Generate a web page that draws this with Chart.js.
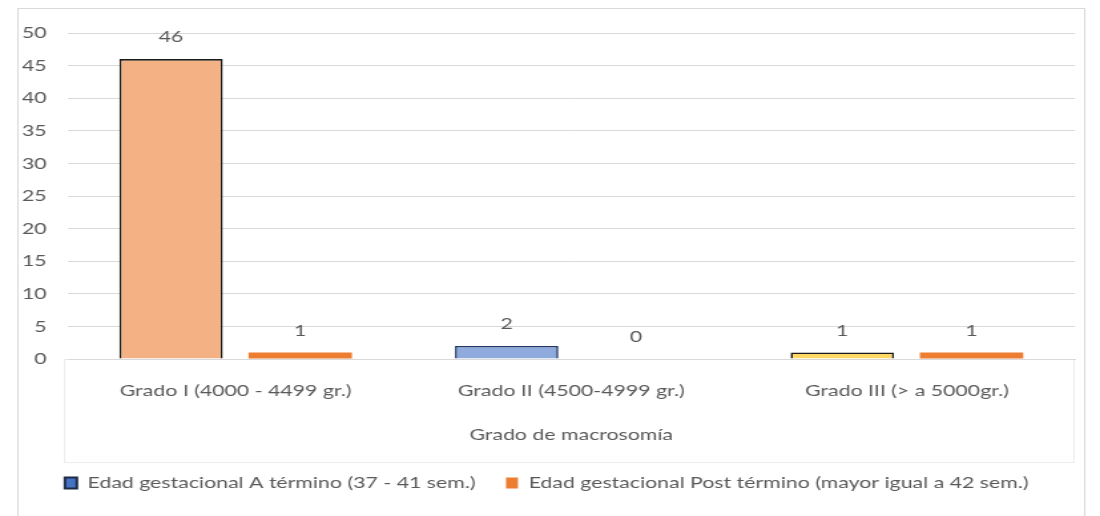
<!DOCTYPE html>
<html>
<head>
<meta charset="utf-8">
<script src="https://cdn.jsdelivr.net/npm/chart.js@4/dist/chart.umd.min.js"></script>
<style>
  body { margin: 0; background: #fff; overflow: hidden; }
  /* the source picture is stretched sideways, so the chart is drawn narrow and widened */
  #wrap { width: 827px; height: 516px; transform: scaleX(1.3301); transform-origin: 0 0; }
</style>
</head>
<body>
<div id="wrap"><canvas id="macroChart" width="827" height="516"></canvas></div>
<script>
// --- Chart data ---
const categories = ["Grado I (4000 - 4499 gr.)", "Grado II (4500-4999 gr.)", "Grado III (> a 5000gr.)"];
const seriesNames = ["Edad gestacional A término (37 - 41 sem.)", "Edad gestacional Post término (mayor igual a 42 sem.)"];
const aTermino = [46, 2, 1];
const postTermino = [1, 0, 1];
const yTicks = [0, 5, 10, 15, 20, 25, 30, 35, 40, 45, 50];
const axisTitle = "Grado de macrosomía";

const FONT = "Lato, 'Open Sans', sans-serif";
const GREY = "#595959";

// numbers above every bar
const valueLabels = {
    id: "valueLabels",
    afterDatasetsDraw(chart){
        const ctx = chart.ctx;
        ctx.save();
        ctx.font = "16px " + FONT;
        ctx.fillStyle = GREY;
        ctx.textAlign = "center";
        ctx.textBaseline = "middle";
        chart.data.datasets.forEach((ds, i) => {
            chart.getDatasetMeta(i).data.forEach((bar, j) => {
                ctx.fillText(String(ds.data[j]), bar.x, bar.y - 22);
            });
        });
        ctx.restore();
    }
};

// outer frame + faint box round the category labels
const frames = {
    id: "frames",
    beforeDraw(chart){
        const ctx = chart.ctx;
        const a = chart.chartArea;
        ctx.save();
        ctx.strokeStyle = "#d9d9d9";
        ctx.lineWidth = 1;
        ctx.strokeRect(13.5, 8.5, 802, 520);
        ctx.strokeStyle = "#ececec";
        ctx.strokeRect(a.left - 2.5, a.bottom + 0.5, a.right - a.left + 2, 103);
        ctx.restore();
    }
};

new Chart(document.getElementById("macroChart"), {
    type: "bar",
    data: {
        labels: categories,
        datasets: [
            {
                label: seriesNames[0],
                data: aTermino,
                backgroundColor: ["#F4B183", "#8FAADC", "#FFD966"],
                borderColor: ["#1a1a1a", "#1F3864", "#1a1a1a"],
                borderWidth: 1.6,
                borderSkipped: "bottom"
            },
            {
                label: seriesNames[1],
                data: postTermino,
                backgroundColor: "#ED7D31",
                borderWidth: 0
            }
        ]
    },
    options: {
        responsive: false,
        animation: false,
        categoryPercentage: 0.77,
        barPercentage: 0.8,
        layout: { padding: { left: 14, right: 19, top: 33, bottom: 15 } },
        plugins: {
            tooltip: { enabled: false },
            legend: {
                position: "bottom",
                labels: {
                    font: { family: FONT, size: 16 },
                    color: GREY,
                    boxWidth: 9,
                    boxHeight: 11,
                    padding: 23,
                    generateLabels(chart){
                        return [
                            { text: seriesNames[0], fillStyle: "#4472C4", strokeStyle: "#1F2A44", lineWidth: 2, fontColor: GREY, datasetIndex: 0 },
                            { text: seriesNames[1], fillStyle: "#ED7D31", strokeStyle: "#ED7D31", lineWidth: 0, fontColor: GREY, datasetIndex: 1 }
                        ];
                    }
                }
            }
        },
        scales: {
            x: {
                grid: { display: false },
                border: { color: "#d9d9d9" },
                ticks: { font: { family: FONT, size: 16 }, color: GREY, padding: 14 },
                title: { display: true, text: axisTitle, font: { family: FONT, size: 16 }, color: GREY, padding: { top: 10, bottom: 8 } },
                afterFit(scale){ scale.height = 93; }
            },
            y: {
                min: 0,
                max: 50,
                afterBuildTicks(scale){ scale.ticks = yTicks.map(v => ({ value: v })); },
                grid: { color: "#d9d9d9", drawTicks: false },
                border: { display: false },
                ticks: { font: { family: FONT, size: 16 }, color: GREY, padding: 16 },
                afterFit(scale){ scale.width = 37; }
            }
        }
    },
    plugins: [frames, valueLabels]
});
</script>
</body>
</html>
